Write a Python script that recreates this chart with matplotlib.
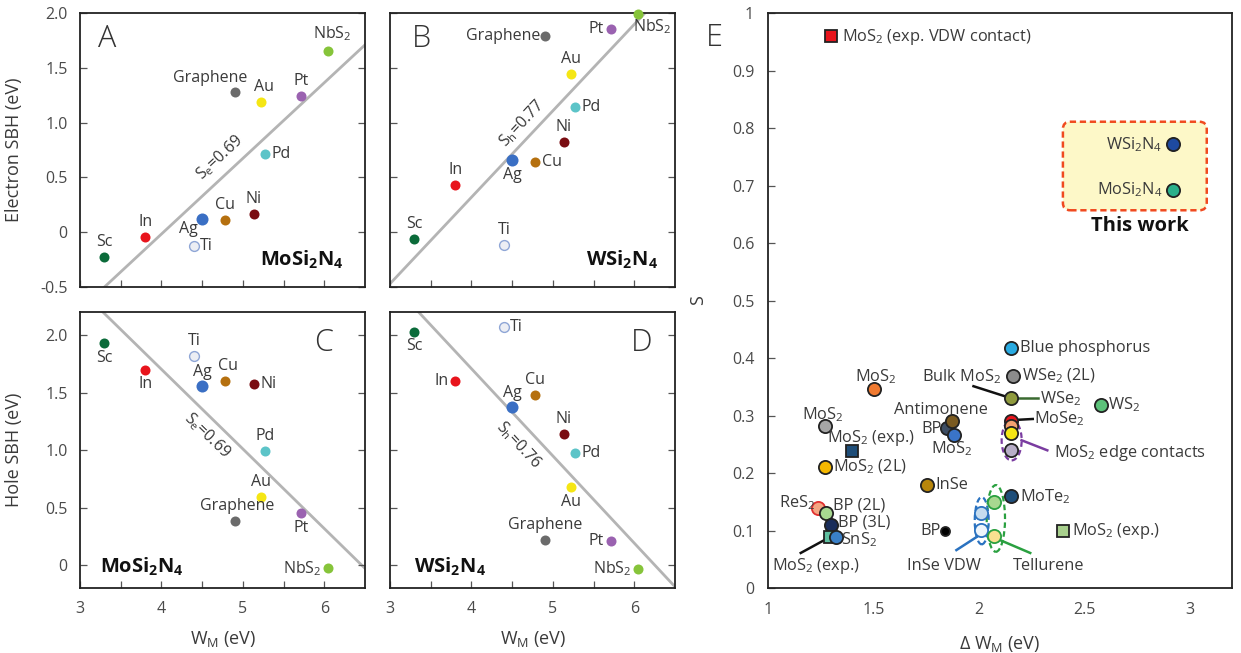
import matplotlib.pyplot as plt
from matplotlib.patches import Ellipse, FancyBboxPatch

plt.rcParams['font.family'] = ['Open Sans', 'DejaVu Sans']
plt.rcParams['mathtext.fontset'] = 'custom'
plt.rcParams['mathtext.rm'] = 'Open Sans'
plt.rcParams['mathtext.bf'] = 'Open Sans:bold'
plt.rcParams['mathtext.default'] = 'regular'

# ---- panels A-D: metal contacts ----
metals = ['Sc', 'In', 'Ti', 'Ag', 'Cu', 'Ni', 'Pd', 'Au', 'Graphene', 'Pt', 'NbS$_2$']
wm = [3.30, 3.80, 4.40, 4.50, 4.78, 5.13, 5.27, 5.22, 4.90, 5.71, 6.05]
sbh_e_mo = [-0.23, -0.04, -0.13, 0.12, 0.11, 0.17, 0.71, 1.19, 1.28, 1.24, 1.65]
sbh_e_w = [-0.06, 0.43, -0.12, 0.66, 0.64, 0.82, 1.14, 1.44, 1.79, 1.85, 1.99]
sbh_h_mo = [1.93, 1.70, 1.82, 1.56, 1.60, 1.57, 0.99, 0.59, 0.38, 0.45, -0.03]
sbh_h_w = [2.03, 1.60, 2.07, 1.37, 1.48, 1.14, 0.97, 0.68, 0.22, 0.21, -0.035]
metal_colors = ['#0b6b3a', '#e8141c', '#eceef4', '#3a6fc4', '#b5700f', '#7a0d12',
                '#5cc4c8', '#f5e614', '#6b6b6b', '#9a62b0', '#86c43a']

# fitted lines (end points) and slopes
fit_x = {'A': [3.30, 6.5], 'B': [3.0, 6.13], 'C': [3.28, 6.5], 'D': [3.35, 6.5]}
fit_y = {'A': [-0.5, 1.71], 'B': [-0.47, 2.0], 'C': [2.2, -0.03], 'D': [2.2, -0.19]}
slope_txt = {'A': 'S$_e$=0.69', 'B': 'S$_h$=0.77', 'C': 'S$_e$=0.69', 'D': 'S$_h$=0.76'}

# label placement (offset points, ha, va)
U, Dn, L, R = (0, 5, 'center', 'bottom'), (0, -5, 'center', 'top'), (-5, 0, 'right', 'center'), (5, 0, 'left', 'center')
offs = {
    'A': [U, U, (4, 0, 'left', 'center'), (-3, -7, 'right', 'center'), U, U, R, (2, 5, 'center', 'bottom'),
          (9, 4, 'right', 'bottom'), U, (3, 6, 'center', 'bottom')],
    'B': [U, U, U, Dn, R, U, R, U, (-3, 0, 'right', 'center'), L, (-4, -2, 'left', 'top')],
    'C': [Dn, Dn, U, (0, 4, 'center', 'bottom'), (2, 5, 'center', 'bottom'), R, U, U,
          (2, 5, 'center', 'bottom'), Dn, L],
    'D': [Dn, L, (4, 0, 'left', 'center'), U, U, U, R, Dn, U, L, L],
}

fig = plt.figure(figsize=(12.41, 6.53), dpi=100)
axA = fig.add_axes([0.0645, 0.5605, 0.2297, 0.4196])
axB = fig.add_axes([0.3143, 0.5605, 0.2297, 0.4196])
axC = fig.add_axes([0.0645, 0.0995, 0.2297, 0.4227])
axD = fig.add_axes([0.3143, 0.0995, 0.2297, 0.4227])
axE = fig.add_axes([0.6189, 0.0995, 0.3739, 0.8805])

txtc = '#3a3a3a'
tickc = '#4a4a4a'


def style(ax):
    for sp in ax.spines.values():
        sp.set_color('#222222')
        sp.set_linewidth(1.3)
    ax.tick_params(direction='in', length=5, width=0.9, color='#555555',
                   labelcolor=tickc, labelsize=11.5, pad=9, right=True)


panels = [(axA, 'A', sbh_e_mo, 'MoSi$_\\mathbf{2}$N$_\\mathbf{4}$', (0.778, 0.10), (0.094, 0.905), (4.72, 0.685), 43),
          (axB, 'B', sbh_e_w, 'WSi$_\\mathbf{2}$N$_\\mathbf{4}$', (0.813, 0.10), (0.111, 0.905), (4.62, 0.99), 47),
          (axC, 'C', sbh_h_mo, 'MoSi$_\\mathbf{2}$N$_\\mathbf{4}$', (0.216, 0.077), (0.854, 0.887), (4.56, 1.13), -44),
          (axD, 'D', sbh_h_w, 'WSi$_\\mathbf{2}$N$_\\mathbf{4}$', (0.21, 0.077), (0.883, 0.887), (4.58, 1.04), -47)]

for ax, key, vals, comp, comp_pos, let_pos, sl_pos, rot in panels:
    style(ax)
    ax.plot(fit_x[key], fit_y[key], color='#b4b4b4', lw=2, zorder=1)
    for i, name in enumerate(metals):
        if name == 'Ti':
            ax.scatter(wm[i], vals[i], s=50, facecolor='#eceef4', edgecolor='#8fa6d6', lw=1.0, zorder=3, clip_on=False)
        else:
            ax.scatter(wm[i], vals[i], s=75 if name == 'Ag' else 52, color=metal_colors[i], lw=0, zorder=3, clip_on=False)
        dx, dy, ha, va = offs[key][i]
        ax.annotate(name, (wm[i], vals[i]), xytext=(dx, dy), textcoords='offset points',
                    ha=ha, va=va, fontsize=11.5, color=txtc)
    ax.text(sl_pos[0], sl_pos[1], slope_txt[key], rotation=rot, ha='center', va='center',
            fontsize=11.5, color=txtc, rotation_mode='anchor')
    ax.text(*let_pos, key, transform=ax.transAxes, ha='center', va='center', fontsize=22,
            color='#333333', fontweight='light')
    ax.text(*comp_pos, comp, transform=ax.transAxes, ha='center', va='center', fontsize=14.5,
            fontweight='bold', color='#111111')
    ax.set_xlim(3, 6.5)
    ax.set_xticks([3, 4, 5, 6])
    ax.set_xticks([3.5, 4.5, 5.5], minor=True)
    ax.tick_params(which='minor', direction='in', length=5, width=0.9, color='#555555')

for ax in (axA, axB):
    ax.set_ylim(-0.5, 2.0)
    ax.set_yticks([-0.5, 0, 0.5, 1.0, 1.5, 2.0])
    ax.set_xticklabels([])
for ax in (axC, axD):
    ax.set_ylim(-0.2, 2.2)
    ax.set_yticks([0, 0.5, 1.0, 1.5, 2.0])
    ax.set_xlabel('W$_M$ (eV)', fontsize=13, color=txtc)
    ax.xaxis.set_label_coords(0.5, -0.15)
axA.set_yticklabels(['-0.5', '0', '0.5', '1.0', '1.5', '2.0'])
axC.set_yticklabels(['0', '0.5', '1.0', '1.5', '2.0'])
axB.set_yticklabels([])
axD.set_yticklabels([])
axA.set_ylabel('Electron SBH (eV)', fontsize=13, color=txtc)
axC.set_ylabel('Hole SBH (eV)', fontsize=13, color=txtc)
axA.yaxis.set_label_coords(-0.2, 0.5)
axC.yaxis.set_label_coords(-0.2, 0.5)

# ---- panel E: pinning factor vs work function range ----
e_dw = [1.30, 2.92, 2.92, 2.15, 2.16, 2.153, 2.577, 2.15, 2.15, 2.15, 2.15,
        1.502, 1.269, 1.40, 1.269, 1.847, 1.873, 1.881, 1.754, 1.84, 2.15,
        2.011, 2.011, 2.072, 2.072, 2.40, 1.238, 1.274, 1.30, 1.295, 1.322]
e_s = [0.96, 0.772, 0.692, 0.418, 0.369, 0.33, 0.319, 0.291, 0.281, 0.27, 0.24,
       0.346, 0.281, 0.238, 0.211, 0.279, 0.29, 0.267, 0.18, 0.10, 0.16,
       0.131, 0.101, 0.150, 0.091, 0.10, 0.14, 0.13, 0.11, 0.089, 0.089]
e_fill = ['#e8141c', '#1e4aa0', '#2ab08a', '#29abe2', '#8c8c8c', '#8f9a3d', '#5cc27a', '#e8141c', '#f4a070', '#f5e614', '#b8aec8',
          '#f07a30', '#a6a6a6', '#1f4e79', '#f5b800', '#3d4d63', '#7a5a20', '#3a74c8', '#b8860b', '#000000', '#1f4e79',
          '#c5dcef', '#eef5fb', '#a8d890', '#f8e090', '#a8d08d', '#f4a582', '#a8d890', '#1a2d5a', '#5fc0a0', '#3a80c8']
e_edge = ['#222222'] * 21 + ['#2a72c0', '#2a72c0', '#2aa040', '#2aa040', '#222222', '#e03030', '#222222', '#222222', '#222222', '#222222']
e_marker = ['s', 'o', 'o', 'o', 'o', 'o', 'o', 'o', 'o', 'o', 'o',
            'o', 'o', 's', 'o', 'o', 'o', 'o', 'o', 'o', 'o',
            'o', 'o', 'o', 'o', 's', 'o', 'o', 'o', 's', 'o']

e_text = [('MoS$_2$ (exp. VDW contact)', 1.350, 0.959, 'left'), ('WSi$_2$N$_4$', 2.870, 0.772, 'right'),
          ('MoSi$_2$N$_4$', 2.870, 0.692, 'right'), ('Blue phosphorus', 2.194, 0.418, 'left'),
          ('WSe$_2$ (2L)', 2.205, 0.369, 'left'), ('Bulk MoS$_2$', 1.917, 0.367, 'center'),
          ('WSe$_2$', 2.288, 0.329, 'left'), ('WS$_2$', 2.612, 0.319, 'left'),
          ('Antimonene', 1.819, 0.310, 'center'), ('MoSe$_2$', 2.262, 0.294, 'left'),
          ('MoS$_2$', 1.513, 0.368, 'center'), ('MoS$_2$', 1.261, 0.302, 'center'),
          ('MoS$_2$ (exp.)', 1.489, 0.261, 'center'), ('BP', 1.822, 0.276, 'right'),
          ('MoS$_2$', 1.873, 0.242, 'center'), ('MoS$_2$ edge contacts', 2.357, 0.235, 'left'),
          ('MoS$_2$ (2L)', 1.306, 0.211, 'left'), ('InSe', 1.792, 0.18, 'left'),
          ('MoTe$_2$', 2.194, 0.159, 'left'), ('ReS$_2$', 1.225, 0.148, 'right'),
          ('BP (2L)', 1.306, 0.144, 'left'), ('BP (3L)', 1.331, 0.114, 'left'),
          ('SnS$_2$', 1.347, 0.084, 'left'), ('BP', 1.819, 0.10, 'right'),
          ('MoS$_2$ (exp.)', 2.443, 0.10, 'left'), ('MoS$_2$ (exp.)', 1.228, 0.039, 'center'),
          ('InSe VDW', 1.835, 0.0375, 'center'), ('Tellurene', 2.332, 0.0375, 'center')]

leaders = [([1.974, 2.153], [0.351, 0.33], '#111111'), ([2.153, 2.28], [0.33, 0.33], '#3a6a30'),
           ([2.155, 2.255], [0.292, 0.294], '#111111'), ([2.202, 2.324], [0.257, 0.2395], '#7a3ca0'),
           ([1.893, 1.99], [0.066, 0.089], '#2a72c0'), ([2.096, 2.243], [0.084, 0.061], '#2aa040'),
           ([1.155, 1.295], [0.061, 0.089], '#111111')]

style(axE)
axE.tick_params(right=False, bottom=False, pad=10)
axE.set_xlim(1, 3.2)
axE.set_ylim(0, 1)
axE.set_xticks([1, 1.5, 2, 2.5, 3])
axE.set_xticklabels(['1', '1.5', '2', '2.5', '3'])
axE.set_yticks([i / 10 for i in range(11)])
axE.set_yticklabels(['0'] + ['0.%d' % i for i in range(1, 10)] + ['1'])

box = FancyBboxPatch((2.398, 0.657), 0.682, 0.154, boxstyle='round,pad=0,rounding_size=0.035',
                     mutation_aspect=0.367, facecolor='#fdf8c8', edgecolor='#f04a20', lw=1.8,
                     ls=(0, (2.5, 1.5)), zorder=0)
axE.add_patch(box)

for (xs, ys, c) in leaders:
    axE.plot(xs, ys, color=c, lw=1.8, zorder=2)

for cx, cy, w, h, c in [(2.155, 0.257, 0.095, 0.07, '#7a3ca0'), (2.013, 0.117, 0.066, 0.082, '#2a72c0'),
                        (2.08, 0.121, 0.087, 0.116, '#2aa040')]:
    axE.add_patch(Ellipse((cx, cy), w, h, fill=False, edgecolor=c, lw=1.6, ls=(0, (2.5, 1.5)), zorder=2))

for i in range(len(e_dw)):
    ms = 8 if e_marker[i] == 's' else (6.5 if e_fill[i] == '#000000' else 9.5)
    axE.plot(e_dw[i], e_s[i], marker=e_marker[i], ms=ms, mfc=e_fill[i], mec=e_edge[i],
             mew=1.3, ls='none', zorder=3)

for t, x, y, ha in e_text:
    axE.text(x, y, t, ha=ha, va='center', fontsize=11.8, color=txtc, zorder=4)
axE.text(2.763, 0.63, 'This work', ha='center', va='center', fontsize=14.5, fontweight='bold', color='#111111')
axE.text(-0.116, 0.957, 'E', transform=axE.transAxes, ha='center', va='center', fontsize=22,
         color='#333333', fontweight='light')
axE.set_xlabel('Δ W$_M$ (eV)', fontsize=13, color=txtc)
axE.xaxis.set_label_coords(0.5, -0.08)
axE.set_ylabel('S', fontsize=13, color=txtc)
axE.yaxis.set_label_coords(-0.131, 0.5)

fig.savefig('out.png', dpi=100)
